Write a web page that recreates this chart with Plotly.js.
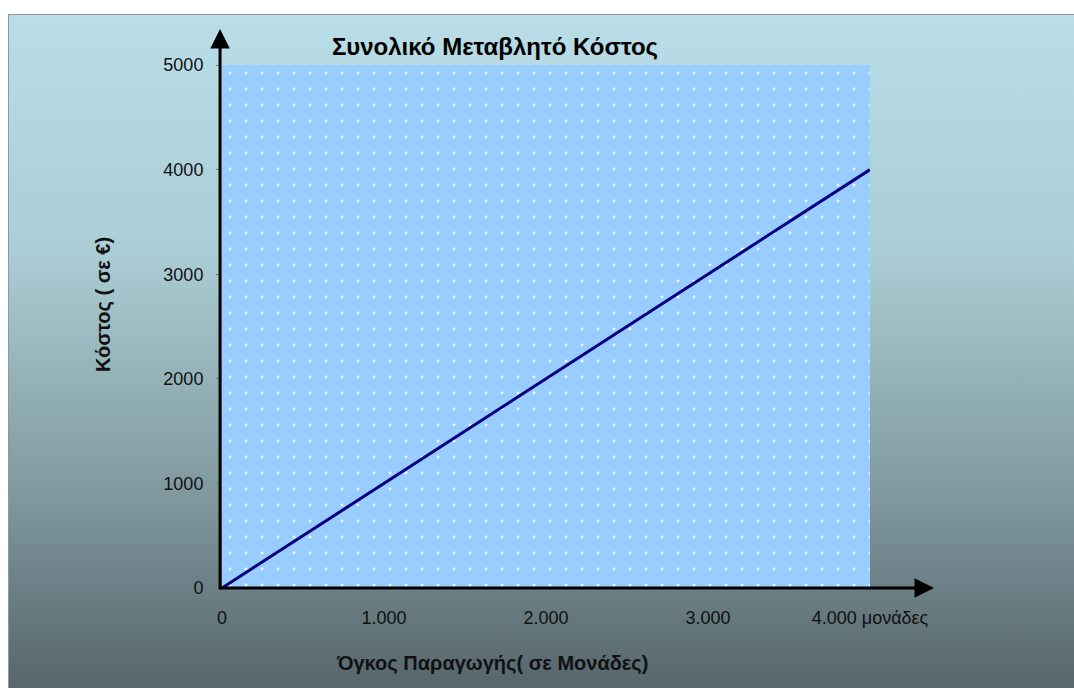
<!DOCTYPE html>
<html>
<head>
<meta charset="utf-8">
<script src="https://cdn.plot.ly/plotly-3.0.1.min.js"></script>
<style>
  html, body { margin: 0; padding: 0; background: #ffffff; }
  #frame { position: absolute; left: 8px; top: 14px; width: 1066px; height: 674px;
           background: linear-gradient(to bottom, #b9dee7 0%, #abcdd5 35%, #819aa0 70%, #56666c 100%);
           border-top: 1px solid #8c9aa0; border-left: 1px solid #8c9aa0; box-sizing: border-box; }
  #chart { position: absolute; left: 0; top: 0; width: 1074px; height: 688px; }
</style>
</head>
<body>
<div id="frame"></div>
<div id="chart"></div>
<script>
// Data
const units = [0, 1000, 2000, 3000, 4000];
const cost = [0, 1000, 2000, 3000, 4000];
const xTickVals = [0, 1000, 2000, 3000, 4000];
const xTickText = ['0', '1.000', '2.000', '3.000', '4.000 μονάδες'];
const yTickVals = [0, 1000, 2000, 3000, 4000, 5000];
const xMax = 4000;
const yMax = 5000;
const chartTitle = 'Συνολικό Μεταβλητό Κόστος';
const xTitle = 'Όγκος Παραγωγής( σε Μονάδες)';
const yTitle = 'Κόστος ( σε €)';

const FONT = 'Liberation Sans, Arial, sans-serif';

const bgTrace = {
  x: [0, xMax, xMax, 0, 0],
  y: [0, 0, yMax, yMax, 0],
  mode: 'none',
  fill: 'toself',
  fillcolor: '#99ccff',
  fillpattern: { shape: '.', fgcolor: '#ffffff', fgopacity: 0.85, bgcolor: '#99ccff', size: 16, solidity: 0.025 },
  hoverinfo: 'skip',
  showlegend: false
};

const lineTrace = {
  x: units,
  y: cost,
  mode: 'lines',
  line: { color: '#000080', width: 3 },
  showlegend: false
};

const layout = {
  width: 1074,
  height: 688,
  margin: { l: 222, r: 204, t: 65, b: 100 },
  paper_bgcolor: 'rgba(0,0,0,0)',
  plot_bgcolor: '#99ccff',
  font: { family: FONT, size: 18, color: '#000000' },
  title: {
    text: '<b>' + chartTitle + '</b>',
    font: { family: FONT, size: 24, color: '#000000' },
    xref: 'paper', x: (495 - 222) / 648, xanchor: 'center',
    yref: 'container', y: 1 - 47 / 688, yanchor: 'middle'
  },
  xaxis: {
    range: [0, xMax],
    tickvals: xTickVals,
    ticktext: xTickText,
    ticks: 'outside', ticklen: 5, tickcolor: '#777777', tickwidth: 1,
    ticklabelstandoff: 8,
    showgrid: false, zeroline: false, showline: false,
    tickfont: { family: FONT, size: 18, color: '#111111' },
    fixedrange: true
  },
  yaxis: {
    range: [0, yMax],
    tickvals: yTickVals,
    ticks: 'outside', ticklen: 5, tickcolor: '#777777', tickwidth: 1,
    ticklabelstandoff: 9,
    showgrid: false, zeroline: false, showline: false,
    tickfont: { family: FONT, size: 18, color: '#111111' },
    fixedrange: true
  },
  annotations: [
    {
      xref: 'paper', yref: 'paper', x: -0.003, y: (588 - 29) / 523,
      ax: 0, ay: 562, text: '', showarrow: true,
      arrowhead: 2, arrowsize: 1.3, arrowwidth: 3, arrowcolor: '#000000'
    },
    {
      xref: 'paper', yref: 'paper', x: (934 - 222) / 648, y: 0,
      ax: -715, ay: 0, text: '', showarrow: true,
      arrowhead: 2, arrowsize: 1.3, arrowwidth: 3, arrowcolor: '#000000'
    },
    {
      xref: 'paper', yref: 'paper', x: (492 - 222) / 648, y: (588 - 663) / 523,
      xanchor: 'center', yanchor: 'middle', showarrow: false,
      text: '<b>' + xTitle + '</b>',
      font: { family: FONT, size: 20, color: '#111111' }
    },
    {
      xref: 'paper', yref: 'paper', x: (103 - 222) / 648, y: (588 - 305) / 523,
      xanchor: 'center', yanchor: 'middle', showarrow: false, textangle: -90,
      text: '<b>' + yTitle + '</b>',
      font: { family: FONT, size: 20, color: '#111111' }
    }
  ]
};

Plotly.newPlot('chart', [bgTrace, lineTrace], layout, { displayModeBar: false, staticPlot: true });
</script>
</body>
</html>
